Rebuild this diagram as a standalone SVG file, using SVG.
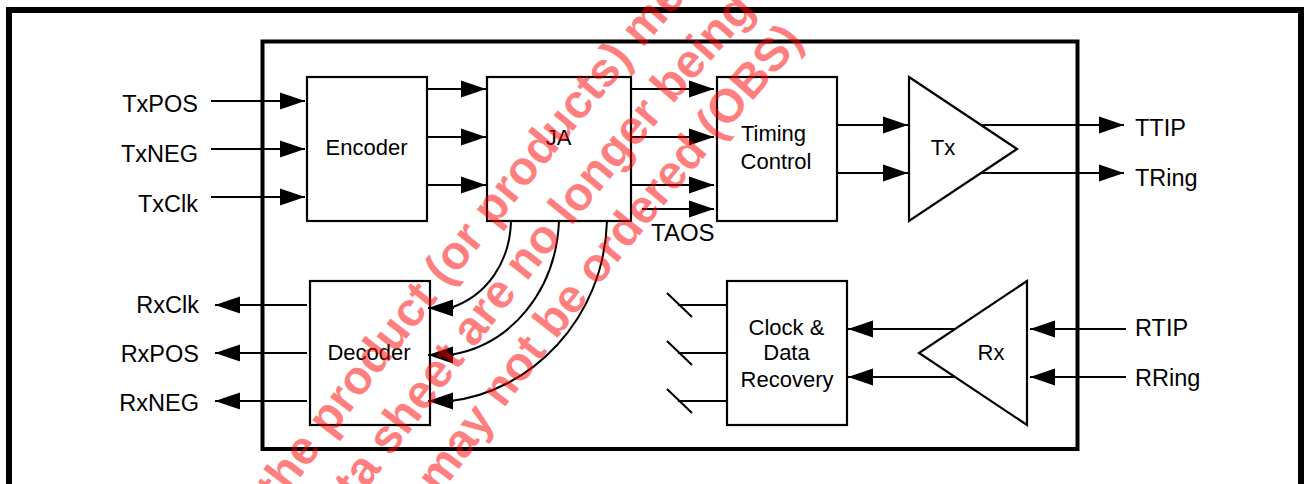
<svg xmlns="http://www.w3.org/2000/svg" width="1304" height="484" viewBox="0 0 1304 484">
<style>
text{font-family:"Liberation Sans",Arial,sans-serif;font-size:22px;fill:#000}
.l{font-size:23.5px}
.b{fill:#fff;stroke:#000;stroke-width:2.2}
.c{fill:none;stroke:#000;stroke-width:2}
.t{text-anchor:middle}
.e{text-anchor:end}
.w{font-weight:bold;font-size:47.500px;fill:#f00;fill-opacity:.5}
</style>
<defs><marker id="a" markerUnits="userSpaceOnUse" markerWidth="26" markerHeight="18" refX="25" refY="9" orient="auto"><path d="M0 .5L25 9L0 17.5Z"/></marker>
<path id="w1" d="M272 515Q529 173 720 -40"/>
<path id="w2" d="M357 502Q603 174 775 -10"/>
<path id="w3" d="M442 492Q621 246 815 30"/>
</defs>
<rect width="1304" height="484" fill="#fff"/>
<path d="M9 484V10H1301V484" fill="none" stroke="#000" stroke-width="6"/>
<rect x="262.500" y="41.500" width="815" height="407.500" fill="none" stroke="#000" stroke-width="4"/>
<g id="encoder"><rect class="b" x="307" y="77" width="120" height="144"/><text class="t" x="366.500" y="155">Encoder</text></g>
<g id="ja"><rect class="b" x="487" y="77" width="144" height="144"/><text class="t" x="558.500" y="145">JA</text></g>
<g id="timing"><rect class="b" x="717" y="77" width="120" height="144"/><text class="t" x="773.500" y="141">Timing</text><text class="t" x="776" y="169">Control</text></g>
<g id="tx"><path class="b" d="M909 77L1017 149L909 221Z"/><text class="t" x="943" y="155">Tx</text></g>
<g id="decoder"><rect class="b" x="310" y="281" width="120" height="144"/><text class="t" x="369" y="360">Decoder</text></g>
<g id="cdr"><rect class="b" x="727" y="281" width="120" height="144"/><text class="t" x="786.500" y="335">Clock &amp;</text><text class="t" x="786.500" y="360">Data</text><text class="t" x="787" y="387">Recovery</text></g>
<g id="rx"><path class="b" d="M1027 281L919 353L1027 425Z"/><text class="t" x="991" y="360">Rx</text></g>
<g id="connectors">
<path class="c" marker-end="url(#a)" d="M211 101H305"/><path class="c" marker-end="url(#a)" d="M211 149H305"/><path class="c" marker-end="url(#a)" d="M211 197H305"/>
<path class="c" marker-end="url(#a)" d="M428 89H486"/><path class="c" marker-end="url(#a)" d="M428 137H486"/><path class="c" marker-end="url(#a)" d="M428 185H486"/>
<path class="c" marker-end="url(#a)" d="M632 89H714"/><path class="c" marker-end="url(#a)" d="M632 137H714"/><path class="c" marker-end="url(#a)" d="M632 185H714"/><path class="c" marker-end="url(#a)" d="M642 209H714"/>
<path class="c" marker-end="url(#a)" d="M838 125H908"/><path class="c" marker-end="url(#a)" d="M838 173H908"/>
<path class="c" marker-end="url(#a)" d="M982 125H1124"/><path class="c" marker-end="url(#a)" d="M982 173H1124"/>
<path class="c" marker-end="url(#a)" d="M307 305H215"/><path class="c" marker-end="url(#a)" d="M307 353H215"/><path class="c" marker-end="url(#a)" d="M307 401H215"/>
<path class="c" d="M511 221C510 262 487 296 450 308"/><path class="c" marker-end="url(#a)" d="M454 308H428"/>
<path class="c" d="M559 221C556 290 512 345 450 355"/><path class="c" marker-end="url(#a)" d="M454 355H428"/>
<path class="c" d="M607 221C604 320 530 392 450 401"/><path class="c" marker-end="url(#a)" d="M454 401H428"/>
<path class="c" d="M667 293L692 317"/><path class="c" d="M667 341L692 365"/><path class="c" d="M667 389L692 413"/>
<path class="c" d="M678 305H727"/><path class="c" d="M678 353H727"/><path class="c" d="M678 401H727"/>
<path class="c" marker-end="url(#a)" d="M955 329H848"/><path class="c" marker-end="url(#a)" d="M955 377H848"/>
<path class="c" marker-end="url(#a)" d="M1126 329H1030"/><path class="c" marker-end="url(#a)" d="M1126 377H1030"/>
</g>
<g id="labels">
<text class="l e" x="198" y="112">TxPOS</text><text class="l e" x="198" y="162">TxNEG</text><text class="l e" x="198" y="212">TxClk</text>
<text class="l e" x="199" y="313">RxClk</text><text class="l e" x="199" y="362">RxPOS</text><text class="l e" x="199" y="411">RxNEG</text>
<text class="l" x="651" y="241" style="font-size:24px">TAOS</text>
<text class="l" x="1135" y="136">TTIP</text><text class="l" x="1135" y="186">TRing</text><text class="l" x="1135" y="336">RTIP</text><text class="l" x="1135" y="386">RRing</text>
</g>
<g id="watermark">
<text class="w"><textPath href="#w1" startOffset="12">the product (or products) me</textPath></text>
<text class="w"><textPath href="#w2">ta sheet are no longer being</textPath></text>
<text class="w" style="font-size:47px"><textPath href="#w3" startOffset="-4">may not be ordered (OBS)</textPath></text>
</g>
</svg>
